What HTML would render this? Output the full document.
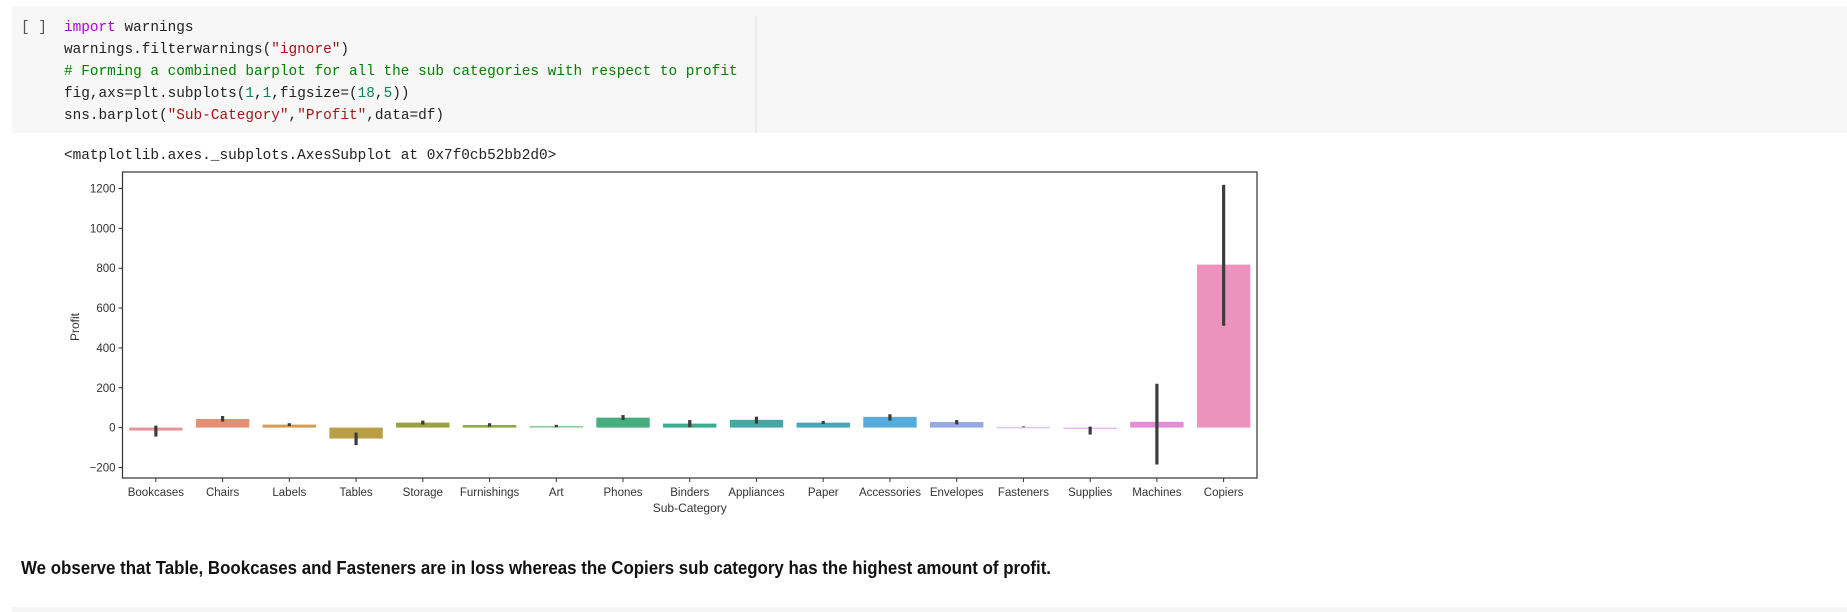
<!DOCTYPE html>
<html><head><meta charset="utf-8"><style>
html,body{margin:0;padding:0;background:#fff;width:1847px;height:612px;overflow:hidden}
svg{display:block}
</style></head><body>
<svg width="1847" height="612" viewBox="0 0 1847 612" xmlns="http://www.w3.org/2000/svg">
<rect x="12" y="6" width="1835" height="127" fill="#f7f7f7"/>
<line x1="756" y1="16" x2="756" y2="133" stroke="#e0e0e0" stroke-width="1"/>
<g font-family="'Liberation Mono', monospace" font-size="14.4">
<text x="21" y="31" fill="#555">[ ]</text>
<text x="64" y="31"><tspan fill="#af00db">import</tspan><tspan fill="#222"> warnings</tspan></text>
<text x="64" y="53" fill="#222">warnings.filterwarnings(<tspan fill="#a31515">"ignore"</tspan>)</text>
<text x="64" y="75" fill="#008000"># Forming a combined barplot for all the sub categories with respect to profit</text>
<text x="64" y="97" fill="#222">fig,axs=plt.subplots(<tspan fill="#098658">1</tspan>,<tspan fill="#098658">1</tspan>,figsize=(<tspan fill="#098658">18</tspan>,<tspan fill="#098658">5</tspan>))</text>
<text x="64" y="119" fill="#222">sns.barplot(<tspan fill="#a31515">"Sub-Category"</tspan>,<tspan fill="#a31515">"Profit"</tspan>,data=df)</text>
<text x="64" y="159" fill="#222">&lt;matplotlib.axes._subplots.AxesSubplot at 0x7f0cb52bb2d0&gt;</text>
</g>
<g id="chart"></g>
<text x="21" y="574" font-family="'Liberation Sans', sans-serif" font-weight="bold" font-size="18" fill="#111" textLength="1030" lengthAdjust="spacingAndGlyphs">We observe that Table, Bookcases and Fasteners are in loss whereas the Copiers sub category has the highest amount of profit.</text>
<rect x="12" y="607" width="1835" height="5" fill="#f5f5f5"/>
</svg>
<script>
const categories=["Bookcases","Chairs","Labels","Tables","Storage","Furnishings","Art","Phones","Binders","Appliances","Paper","Accessories","Envelopes","Fasteners","Supplies","Machines","Copiers"];
const profits=[-15,43,15,-55,25,13,8,50,20,39,25,54,28,4,-7,29,818];
const ciLow=[-45,30,8,-88,15,5,2,38,2,20,18,35,16,2,-35,-185,511];
const ciHigh=[10,58,22,-25,35,22,14,63,38,55,33,67,38,6,5,220,1218];
const colors=["#e8929b","#e58f74","#d59b4f","#b89e45","#9da041","#8aab46","#8fcd95","#45ad80","#3aab8f","#45a9a3","#48a8bb","#55acdc","#96a8e5","#d9c4f5","#ecb8f0","#e68bd6","#e993bd"];
const yTicks=[-200,0,200,400,600,800,1000,1200];
const ns="http://www.w3.org/2000/svg";
const g=document.getElementById("chart");
const L=122.5,R=1257,T=172,B=478;
const y0=427.6, ppu=(427.6-188.5)/1200;
function yScale(v){return y0-v*ppu;}
const step=(R-L)/categories.length;
function xScale(i){return L+step*(i+0.5);}
function mk(tag,attrs){const e=document.createElementNS(ns,tag);for(const k in attrs)e.setAttribute(k,attrs[k]);g.appendChild(e);return e;}
categories.forEach((c,i)=>{
  const v=profits[i],w=step*0.8,x=xScale(i)-w/2;
  const r=mk("rect",{x:x,y:Math.min(yScale(v),yScale(0)),width:w,height:Math.max(1.5,Math.abs(yScale(v)-yScale(0))),fill:colors[i]});
  
  
  const e=mk("line",{x1:xScale(i),x2:xScale(i),y1:yScale(ciLow[i]),y2:yScale(ciHigh[i]),stroke:"#3c3c3c","stroke-width":3.2});
  
  
  const tk=mk("line",{x1:xScale(i),x2:xScale(i),y1:B,y2:B+4,stroke:"#333","stroke-width":1});
  
  
  const t=mk("text",{x:xScale(i),y:B+18,"text-anchor":"middle","font-family":"'Liberation Sans', sans-serif","font-size":"11.5",fill:"#333"});
  t.textContent=c;
  
  
});
yTicks.forEach(v=>{
  const tk=mk("line",{x1:L-4,x2:L,y1:yScale(v),y2:yScale(v),stroke:"#333","stroke-width":1});
  
  
  const t=mk("text",{x:L-7,y:yScale(v)+4,"text-anchor":"end","font-family":"'Liberation Sans', sans-serif","font-size":"11.5",fill:"#333"});
  t.textContent=v<0?"\u2212"+(-v):String(v);
  
  
});
const frame=mk("rect",{x:L,y:T,width:R-L,height:B-T,fill:"none",stroke:"#333","stroke-width":1.2});


const xl=mk("text",{x:(L+R)/2,y:B+34,"text-anchor":"middle","font-family":"'Liberation Sans', sans-serif","font-size":"12",fill:"#333"});
xl.textContent="Sub-Category";


const yl=mk("text",{x:0,y:0,"text-anchor":"middle","font-family":"'Liberation Sans', sans-serif","font-size":"12",fill:"#333",transform:"translate(79,327) rotate(-90)"});
yl.textContent="Profit";


</script>
</body></html>
